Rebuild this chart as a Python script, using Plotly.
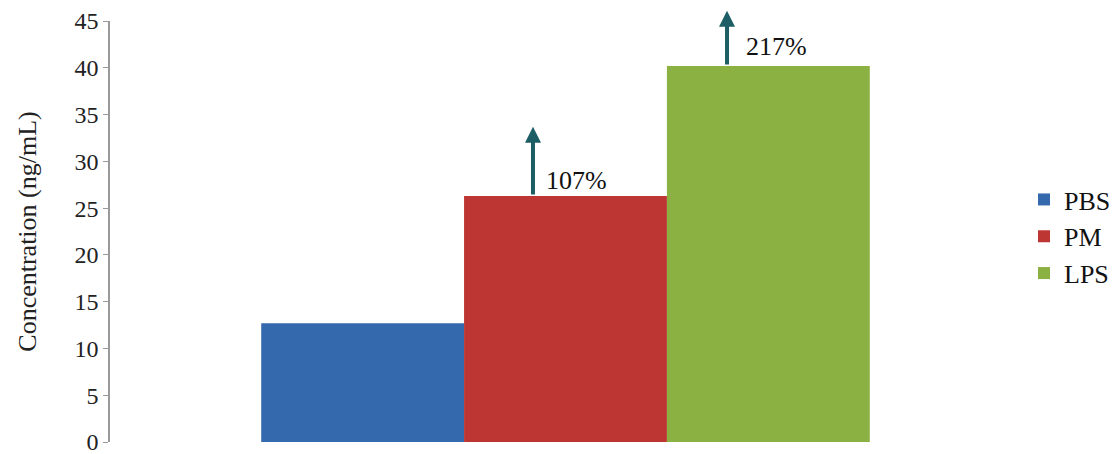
import plotly.graph_objects as go

groups = ["PBS", "PM", "LPS"]
values = [12.7, 26.3, 40.2]
colors = ["#3569ae", "#bd3633", "#8cb143"]
increase_labels = ["107%", "217%"]
y_ticks = [0, 5, 10, 15, 20, 25, 30, 35, 40, 45]

font_family = "Liberation Serif"

# geometry (figure is drawn inside an 8px body margin)
FIG_W, FIG_H = 1112, 454
M_L, M_T = 102, 13
PLOT_H = 421
M_B = FIG_H - M_T - PLOT_H
PLOT_W = 911
paper_w = FIG_W - M_L
bar_w = 0.2227

fig = go.Figure()
for name, val, col in zip(groups, values, colors):
    fig.add_trace(go.Bar(
        x=[0], y=[val], name=name,
        marker=dict(color=col, line=dict(width=0)),
        width=bar_w,
    ))

# arrows above PM and LPS bars
arrow_x = [-0.0357, 0.1773]
text_x = [-0.0235, 0.196]
arrow_len = [7.4, 5.9]
text_dy = [1.7, 2.1]
for i, lbl in enumerate(increase_labels):
    base = values[i + 1]
    fig.add_annotation(
        x=arrow_x[i], y=base + arrow_len[i], ax=arrow_x[i], ay=base,
        xref="x", yref="y", axref="x", ayref="y",
        showarrow=True, arrowhead=2, arrowsize=0.8, arrowwidth=4,
        arrowcolor="#1d5e66", text="",
    )
    fig.add_annotation(
        x=text_x[i], y=base + text_dy[i], xref="x", yref="y",
        text=lbl, showarrow=False, xanchor="left", yanchor="middle",
        font=dict(family=font_family, size=26, color="#111111"),
    )

fig.update_layout(
    width=FIG_W, height=FIG_H,
    margin=dict(l=M_L, r=0, t=M_T, b=M_B, autoexpand=False),
    plot_bgcolor="white", paper_bgcolor="white",
    barmode="group", bargap=0.332, bargroupgap=0,
    font=dict(family=font_family, size=24, color="#222222"),
    showlegend=True,
    legend=dict(x=(1016 - M_L) / paper_w, y=0.488, xanchor="left", yanchor="middle",
                font=dict(family=font_family, size=26, color="#111111"),
                itemwidth=30, tracegroupgap=0, bgcolor="rgba(0,0,0,0)"),
    xaxis=dict(domain=[0, PLOT_W / paper_w], range=[-0.5, 0.5],
               showticklabels=False, showline=False,
               showgrid=False, zeroline=False, ticks=""),
    yaxis=dict(range=[0, 45], tickvals=y_ticks, showgrid=False,
               zeroline=False, showline=True, linecolor="#9a9a9a",
               linewidth=1.5, ticks="outside", ticklen=5, tickcolor="#9a9a9a",
               ticklabeloverflow="allow",
               tickfont=dict(family=font_family, size=24, color="#222222"),
               title=dict(text="Concentration (ng/mL)", standoff=30,
                          font=dict(family=font_family, size=26, color="#222222"))),
)

fig.write_html("out.html")
